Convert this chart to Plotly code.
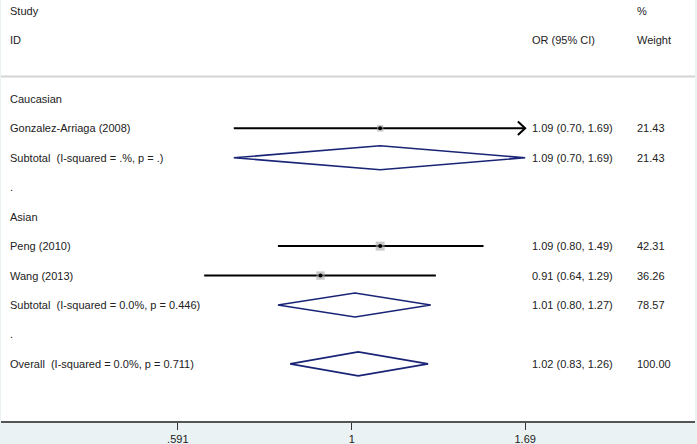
import math
import plotly.graph_objects as go

# ---------------- data ----------------
group_labels = ["Caucasian", "Asian"]
group_rows = [3, 7]

studies = ["Gonzalez-Arriaga (2008)", "Peng (2010)", "Wang (2013)"]
study_rows = [4, 8, 9]
study_or = [1.09, 1.09, 0.91]
study_lo = [0.70, 0.80, 0.64]
study_hi = [1.69, 1.49, 1.29]
study_wt = [21.43, 42.31, 36.26]

pooled = ["Subtotal\u00a0 (I-squared = .%, p = .)",
          "Subtotal\u00a0 (I-squared = 0.0%, p = 0.446)",
          "Overall\u00a0 (I-squared = 0.0%, p = 0.711)"]
pooled_rows = [5, 10, 12]
pooled_or = [1.09, 1.01, 1.02]
pooled_lo = [0.70, 0.80, 0.83]
pooled_hi = [1.69, 1.27, 1.26]
pooled_wt = [21.43, 78.57, 100.00]

spacer_rows = [6, 11]

tick_vals = [0.591, 1, 1.69]
tick_text = [".591", "1", "1.69"]

overall_or = pooled_or[-1]

# ---------------- styling ----------------
W, H = 697, 444
ML, MR, MT, MB = 1, 2, 0, 23
PX_PER_LN = 330.6
X0_PX = 351.7          # pixel of x = 1
ROW0_PX, ROW_PX = 10.5, 29.45
x_lo = math.log10(math.exp((ML - X0_PX) / PX_PER_LN))
x_hi = math.log10(math.exp((W - MR - X0_PX) / PX_PER_LN))
y_top = (MT - ROW0_PX) / ROW_PX
y_bot = (H - MB - ROW0_PX) / ROW_PX
sep_row = (76.5 - ROW0_PX) / ROW_PX

FONT = "Liberation Sans, Arial, sans-serif"
TXT = "#222222"
NAVY = "#1a2477"
MAROON = "#a8434c"
BG = "#eaf2f3"

fig = go.Figure()

# CI lines for studies
for r, e, lo, hi in zip(study_rows, study_or, study_lo, study_hi):
    fig.add_trace(go.Scatter(x=[lo, hi], y=[r, r], mode="lines",
                             line=dict(color="black", width=2),
                             hoverinfo="skip", showlegend=False))
    if hi >= tick_vals[-1]:
        back = hi * math.exp(-7.3 / PX_PER_LN)
        dy = 6.8 / ROW_PX
        fig.add_trace(go.Scatter(x=[back, hi, back], y=[r - dy, r, r + dy],
                                 mode="lines", line=dict(color="black", width=2),
                                 hoverinfo="skip", showlegend=False))

# weight boxes
fig.add_trace(go.Scatter(x=study_or, y=study_rows, mode="markers",
                         marker=dict(symbol="square", color="#a6a6a6",
                                     size=[9 * math.sqrt(w / max(study_wt)) for w in study_wt],
                                     line=dict(width=0)),
                         opacity=0.85, hoverinfo="skip", showlegend=False))
fig.add_trace(go.Scatter(x=study_or, y=study_rows, mode="markers",
                         marker=dict(symbol="circle", color="black", size=4),
                         hoverinfo="skip", showlegend=False))

# diamonds
dh = 12 / ROW_PX
for r, e, lo, hi in zip(pooled_rows, pooled_or, pooled_lo, pooled_hi):
    fig.add_trace(go.Scatter(x=[lo, e, hi, e, lo], y=[r, r - dh, r, r + dh, r],
                             mode="lines", line=dict(color=NAVY, width=1.6),
                             hoverinfo="skip", showlegend=False))

shapes = [
    dict(type="line", xref="paper", yref="y", x0=0, x1=1, y0=sep_row, y1=sep_row,
         line=dict(color="#d4d4d4", width=2.2), layer="below"),
    dict(type="line", xref="x", yref="y", x0=0, x1=0, y0=sep_row, y1=y_bot,
         line=dict(color="black", width=1.3), layer="below"),
    dict(type="line", xref="x", yref="y", x0=math.log10(overall_or), x1=math.log10(overall_or),
         y0=sep_row, y1=y_bot, line=dict(color=MAROON, width=1.3, dash="4px,3px"), layer="below"),
]

ann = []
def text(x, y, s):
    ann.append(dict(x=x, y=y, xref="paper", yref="y", text=s, showarrow=False,
                    xanchor="left", yanchor="middle",
                    font=dict(family=FONT, size=11, color=TXT)))

PW = W - ML - MR
XL = (8 - ML) / PW
XOR = (530 - ML) / PW
XW = (635 - ML) / PW

text(XL, 0, "Study")
text(XL, 1, "ID")
text(XOR, 1, "OR (95% CI)")
text(XW, 0, "%")
text(XW, 1, "Weight")
for g, r in zip(group_labels, group_rows):
    text(XL, r, g)
for r in spacer_rows:
    text(XL, r, ".")
for s, r, e, lo, hi, w in zip(studies, study_rows, study_or, study_lo, study_hi, study_wt):
    text(XL, r, s)
    text(XOR, r, f"{e:.2f} ({lo:.2f}, {hi:.2f})")
    text(XW, r, f"{w:.2f}")
for s, r, e, lo, hi, w in zip(pooled, pooled_rows, pooled_or, pooled_lo, pooled_hi, pooled_wt):
    text(XL, r, s)
    text(XOR, r, f"{e:.2f} ({lo:.2f}, {hi:.2f})")
    text(XW, r, f"{w:.2f}")

fig.update_layout(
    width=W, height=H,
    margin=dict(l=ML, r=MR, t=MT, b=MB, pad=0),
    paper_bgcolor=BG, plot_bgcolor="white",
    shapes=shapes, annotations=ann, showlegend=False,
    xaxis=dict(type="log", range=[x_lo, x_hi], tickvals=tick_vals, ticktext=tick_text,
               showgrid=False, zeroline=False, showline=True, linecolor="#555555",
               linewidth=2, ticks="outside", ticklen=7, tickwidth=1.3, tickcolor="#333333",
               tickfont=dict(family=FONT, size=11, color=TXT), fixedrange=True),
    yaxis=dict(range=[y_bot, y_top], showgrid=False, zeroline=False, showline=False,
               showticklabels=False, ticks="", fixedrange=True),
)

fig.write_html("out.html", config={"displayModeBar": False},
               post_script="document.body.style.margin='0';document.body.style.padding='0';"
                           "document.documentElement.style.overflow='hidden';")
